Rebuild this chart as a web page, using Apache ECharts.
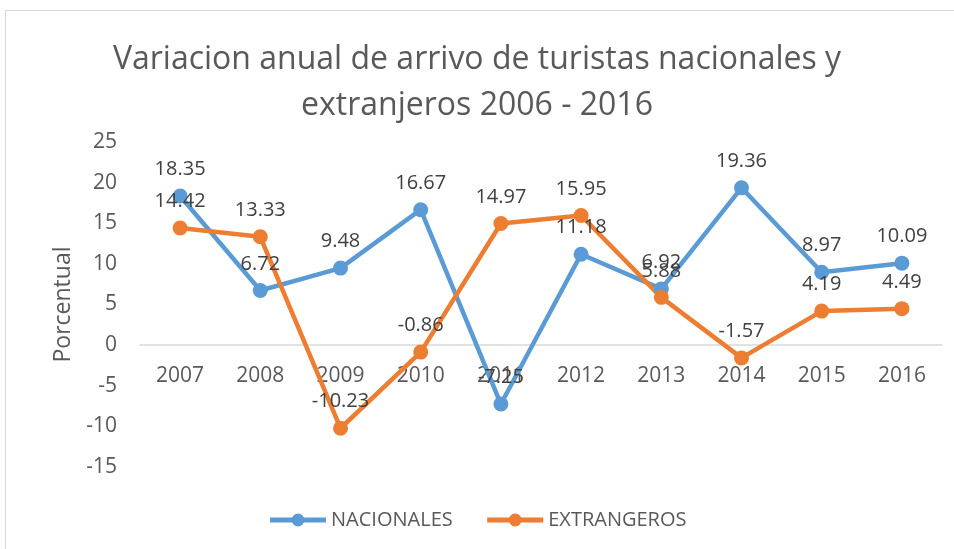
<!DOCTYPE html>
<html>
<head>
<meta charset="utf-8">
<script src="https://cdn.jsdelivr.net/npm/echarts@6/dist/echarts.min.js"></script>
<style>
  html, body { margin: 0; padding: 0; background: #fff; }
  #frame { position: absolute; left: 5px; top: 10px; width: 960px; height: 560px; border: 1px solid #d9d9d9; box-sizing: border-box; }
  #chart { position: absolute; left: 0; top: 0; width: 954px; height: 549px; }
</style>
</head>
<body>
<div id="frame"></div>
<div id="chart"></div>
<script>
// años
const years = ['2007', '2008', '2009', '2010', '2011', '2012', '2013', '2014', '2015', '2016'];
const nacionales = [18.35, 6.72, 9.48, 16.67, -7.25, 11.18, 6.92, 19.36, 8.97, 10.09];
const extranjeros = [14.42, 13.33, -10.23, -0.86, 14.97, 15.95, 5.88, -1.57, 4.19, 4.49];
const titleLines = ['Variacion anual de arrivo de turistas nacionales y', 'extranjeros 2006 - 2016'];

const font = 'Open Sans';
const chart = echarts.init(document.getElementById('chart'));

// el eje x va sobre el cero: desplazamiento desde el borde inferior de la grilla
const gridTop = 142, gridBottom = 82, yMin = -15, yMax = 25;
const plotH = 549 - gridTop - gridBottom;
const zeroOffset = -plotH * (0 - yMin) / (yMax - yMin);

function serie(name, data, color) {
  return {
    name: name,
    type: 'line',
    data: data,
    symbol: 'circle',
    symbolSize: 15,
    lineStyle: { width: 4.5, color: color },
    itemStyle: { color: color },
    label: {
      show: true,
      position: 'top',
      distance: 9,
      fontFamily: font,
      fontSize: 20,
      color: '#404040'
    }
  };
}

chart.setOption({
  animation: false,
  title: {
    text: titleLines.join('\n'),
    left: 'center',
    top: 32,
    textStyle: { fontFamily: font, fontSize: 32, fontWeight: 'normal', color: '#595959', lineHeight: 46 }
  },
  legend: {
    bottom: 14,
    left: 'center',
    itemWidth: 56,
    itemHeight: 16,
    itemGap: 32,
    lineStyle: { width: 5 },
    textStyle: { fontFamily: font, fontSize: 20, color: '#595959' },
    data: ['NACIONALES', 'EXTRANGEROS']
  },
  grid: { left: 140, right: 12, top: gridTop, bottom: gridBottom },
  xAxis: {
    type: 'category',
    data: years,
    offset: zeroOffset,
    axisLine: { onZero: false, lineStyle: { color: '#d9d9d9', width: 1.5 } },
    axisTick: { show: false },
    axisLabel: { fontFamily: font, fontSize: 21, color: '#595959', margin: 20 }
  },
  yAxis: {
    type: 'value',
    min: yMin,
    max: yMax,
    interval: 5,
    name: 'Porcentual',
    nameLocation: 'middle',
    nameGap: 64,
    nameTextStyle: { fontFamily: font, fontSize: 23, color: '#595959' },
    axisLine: { show: false },
    axisTick: { show: false },
    splitLine: { show: false },
    axisLabel: { fontFamily: font, fontSize: 21, color: '#595959', margin: 23 }
  },
  series: [
    serie('NACIONALES', nacionales, '#5b9bd5'),
    serie('EXTRANGEROS', extranjeros, '#ed7d31')
  ]
});
</script>
</body>
</html>
